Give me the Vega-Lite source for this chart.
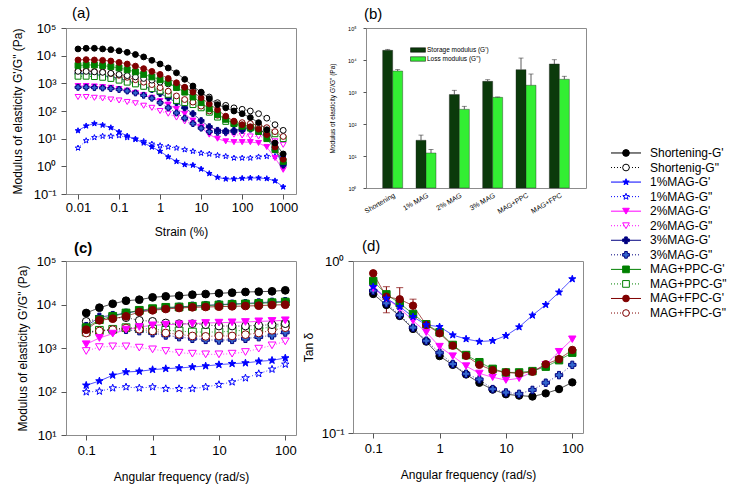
{
"$schema": "https://vega.github.io/schema/vega-lite/v6.json",
"background": "white",
"padding": {"left": 10, "top": 5, "right": 5, "bottom": 5},
"config": {
 "font": "Liberation Sans",
 "view": {"stroke": "#8c8c8c", "strokeWidth": 1},
 "axis": {"domain": false, "grid": false, "labelFont": "Liberation Sans", "titleFont": "Liberation Sans", "labelFontSize": 13, "titleFontSize": 12, "titleFontWeight": "normal", "labelColor": "#000", "titleColor": "#000", "tickColor": "#555", "tickSize": 5, "labelPadding": 3, "labelFlush": false, "labelOverlap": false},
 "title": {"fontSize": 15, "fontWeight": "normal", "anchor": "start", "frame": "group", "offset": 1, "font": "Liberation Sans"}
},
"datasets": {
 "leg": [{"s":"sg1","label":"Shortening-G'"},{"s":"sg2","label":"Shortenig-G\""},{"s":"m11","label":"1%MAG-G'"},{"s":"m12","label":"1%MAG-G\""},{"s":"m21","label":"2%MAG-G'"},{"s":"m22","label":"2%MAG-G\""},{"s":"m31","label":"3%MAG-G'"},{"s":"m32","label":"3%MAG-G\""},{"s":"pp1","label":"MAG+PPC-G'"},{"s":"pp2","label":"MAG+PPC-G\""},{"s":"fp1","label":"MAG+FPC-G'"},{"s":"fp2","label":"MAG+FPC-G\""}],
 "b": [
  {"g":"Shortening","t":"Storage modulus (G')","v":20000,"e":21500},{"g":"Shortening","t":"Loss modulus (G\")","v":4530,"e":5000},
  {"g":"1% MAG","t":"Storage modulus (G')","v":31,"e":45},{"g":"1% MAG","t":"Loss modulus (G\")","v":12.4,"e":16},
  {"g":"2% MAG","t":"Storage modulus (G')","v":830,"e":1130},{"g":"2% MAG","t":"Loss modulus (G\")","v":288,"e":357},
  {"g":"3% MAG","t":"Storage modulus (G')","v":2150,"e":2420},{"g":"3% MAG","t":"Loss modulus (G\")","v":680,"e":700},
  {"g":"MAG+PPC","t":"Storage modulus (G')","v":4990,"e":11500},{"g":"MAG+PPC","t":"Loss modulus (G\")","v":1620,"e":3650},
  {"g":"MAG+FPC","t":"Storage modulus (G')","v":7500,"e":10200},{"g":"MAG+FPC","t":"Loss modulus (G\")","v":2500,"e":3100}
 ],
 "a": [
  {"s":"m12","x":0.01,"y":4.6},{"s":"m12","x":0.0158,"y":8.5},{"s":"m12","x":0.0251,"y":11},{"s":"m12","x":0.0398,"y":12.3},{"s":"m12","x":0.0631,"y":12.3},{"s":"m12","x":0.1,"y":13},{"s":"m12","x":0.158,"y":11},{"s":"m12","x":0.251,"y":9.8},{"s":"m12","x":0.398,"y":8},{"s":"m12","x":0.631,"y":6.4},{"s":"m12","x":1,"y":5.6},{"s":"m12","x":1.58,"y":5},{"s":"m12","x":2.51,"y":4.6},{"s":"m12","x":3.98,"y":4},{"s":"m12","x":6.31,"y":3.5},{"s":"m12","x":10,"y":3},{"s":"m12","x":15.8,"y":2.8},{"s":"m12","x":25.1,"y":2.5},{"s":"m12","x":39.8,"y":2.3},{"s":"m12","x":63.1,"y":2},{"s":"m12","x":100,"y":2},{"s":"m12","x":158,"y":2},{"s":"m12","x":251,"y":2.2},{"s":"m12","x":398,"y":2.3},{"s":"m12","x":631,"y":2.3},{"s":"m12","x":1000,"y":2.1},
  {"s":"m11","x":0.01,"y":19.5},{"s":"m11","x":0.0158,"y":29},{"s":"m11","x":0.0251,"y":35},{"s":"m11","x":0.0398,"y":31},{"s":"m11","x":0.0631,"y":25},{"s":"m11","x":0.1,"y":17.5},{"s":"m11","x":0.158,"y":12.5},{"s":"m11","x":0.251,"y":9.5},{"s":"m11","x":0.398,"y":7},{"s":"m11","x":0.631,"y":5},{"s":"m11","x":1,"y":3.5},{"s":"m11","x":1.58,"y":2.2},{"s":"m11","x":2.51,"y":1.5},{"s":"m11","x":3.98,"y":1.15},{"s":"m11","x":6.31,"y":1.1},{"s":"m11","x":10,"y":0.8},{"s":"m11","x":15.8,"y":0.55},{"s":"m11","x":25.1,"y":0.4},{"s":"m11","x":39.8,"y":0.35},{"s":"m11","x":63.1,"y":0.35},{"s":"m11","x":100,"y":0.37},{"s":"m11","x":158,"y":0.38},{"s":"m11","x":251,"y":0.38},{"s":"m11","x":398,"y":0.36},{"s":"m11","x":631,"y":0.3},{"s":"m11","x":1000,"y":0.18},
  {"s":"m22","x":0.01,"y":320},{"s":"m22","x":0.0158,"y":320},{"s":"m22","x":0.0251,"y":300},{"s":"m22","x":0.0398,"y":285},{"s":"m22","x":0.0631,"y":260},{"s":"m22","x":0.1,"y":240},{"s":"m22","x":0.158,"y":212},{"s":"m22","x":0.251,"y":190},{"s":"m22","x":0.398,"y":155},{"s":"m22","x":0.631,"y":130},{"s":"m22","x":1,"y":100},{"s":"m22","x":1.58,"y":80},{"s":"m22","x":2.51,"y":58},{"s":"m22","x":3.98,"y":42},{"s":"m22","x":6.31,"y":33},{"s":"m22","x":10,"y":27},{"s":"m22","x":15.8,"y":22},{"s":"m22","x":25.1,"y":18},{"s":"m22","x":39.8,"y":15},{"s":"m22","x":63.1,"y":14},{"s":"m22","x":100,"y":13},{"s":"m22","x":158,"y":12},{"s":"m22","x":251,"y":12},{"s":"m22","x":398,"y":11},{"s":"m22","x":631,"y":8},{"s":"m22","x":1000,"y":6},
  {"s":"m21","x":0.01,"y":800},{"s":"m21","x":0.0158,"y":800},{"s":"m21","x":0.0251,"y":770},{"s":"m21","x":0.0398,"y":730},{"s":"m21","x":0.0631,"y":690},{"s":"m21","x":0.1,"y":620},{"s":"m21","x":0.158,"y":540},{"s":"m21","x":0.251,"y":450},{"s":"m21","x":0.398,"y":370},{"s":"m21","x":0.631,"y":300},{"s":"m21","x":1,"y":230},{"s":"m21","x":1.58,"y":170},{"s":"m21","x":2.51,"y":120},{"s":"m21","x":3.98,"y":80},{"s":"m21","x":6.31,"y":45},{"s":"m21","x":10,"y":25},{"s":"m21","x":15.8,"y":14},{"s":"m21","x":25.1,"y":10},{"s":"m21","x":39.8,"y":8},{"s":"m21","x":63.1,"y":7.5},{"s":"m21","x":100,"y":7.5},{"s":"m21","x":158,"y":7.5},{"s":"m21","x":251,"y":7},{"s":"m21","x":398,"y":5},{"s":"m21","x":631,"y":2},{"s":"m21","x":1000,"y":0.75},
  {"s":"m32","x":0.01,"y":720},{"s":"m32","x":0.0158,"y":720},{"s":"m32","x":0.0251,"y":700},{"s":"m32","x":0.0398,"y":680},{"s":"m32","x":0.0631,"y":650},{"s":"m32","x":0.1,"y":600},{"s":"m32","x":0.158,"y":530},{"s":"m32","x":0.251,"y":450},{"s":"m32","x":0.398,"y":370},{"s":"m32","x":0.631,"y":290},{"s":"m32","x":1,"y":200},{"s":"m32","x":1.58,"y":130},{"s":"m32","x":2.51,"y":85},{"s":"m32","x":3.98,"y":55},{"s":"m32","x":6.31,"y":35},{"s":"m32","x":10,"y":24},{"s":"m32","x":15.8,"y":18},{"s":"m32","x":25.1,"y":17},{"s":"m32","x":39.8,"y":17},{"s":"m32","x":63.1,"y":18},{"s":"m32","x":100,"y":20},{"s":"m32","x":158,"y":22},{"s":"m32","x":251,"y":22},{"s":"m32","x":398,"y":15},{"s":"m32","x":631,"y":5},{"s":"m32","x":1000,"y":1.3},
  {"s":"m31","x":0.01,"y":2300},{"s":"m31","x":0.0158,"y":2200},{"s":"m31","x":0.0251,"y":2100},{"s":"m31","x":0.0398,"y":1900},{"s":"m31","x":0.0631,"y":1700},{"s":"m31","x":0.1,"y":1500},{"s":"m31","x":0.158,"y":1250},{"s":"m31","x":0.251,"y":1000},{"s":"m31","x":0.398,"y":800},{"s":"m31","x":0.631,"y":600},{"s":"m31","x":1,"y":430},{"s":"m31","x":1.58,"y":300},{"s":"m31","x":2.51,"y":200},{"s":"m31","x":3.98,"y":130},{"s":"m31","x":6.31,"y":80},{"s":"m31","x":10,"y":45},{"s":"m31","x":15.8,"y":27},{"s":"m31","x":25.1,"y":20},{"s":"m31","x":39.8,"y":19},{"s":"m31","x":63.1,"y":20},{"s":"m31","x":100,"y":22},{"s":"m31","x":158,"y":24},{"s":"m31","x":251,"y":24},{"s":"m31","x":398,"y":14},{"s":"m31","x":631,"y":4},{"s":"m31","x":1000,"y":1.1},
  {"s":"pp2","x":0.01,"y":1800},{"s":"pp2","x":0.0158,"y":1800},{"s":"pp2","x":0.0251,"y":1750},{"s":"pp2","x":0.0398,"y":1650},{"s":"pp2","x":0.0631,"y":1500},{"s":"pp2","x":0.1,"y":1300},{"s":"pp2","x":0.158,"y":1100},{"s":"pp2","x":0.251,"y":950},{"s":"pp2","x":0.398,"y":780},{"s":"pp2","x":0.631,"y":640},{"s":"pp2","x":1,"y":530},{"s":"pp2","x":1.58,"y":400},{"s":"pp2","x":2.51,"y":240},{"s":"pp2","x":3.98,"y":200},{"s":"pp2","x":6.31,"y":170},{"s":"pp2","x":10,"y":130},{"s":"pp2","x":15.8,"y":90},{"s":"pp2","x":25.1,"y":60},{"s":"pp2","x":39.8,"y":42},{"s":"pp2","x":63.1,"y":35},{"s":"pp2","x":100,"y":30},{"s":"pp2","x":158,"y":28},{"s":"pp2","x":251,"y":25},{"s":"pp2","x":398,"y":20},{"s":"pp2","x":631,"y":15},{"s":"pp2","x":1000,"y":10},
  {"s":"fp2","x":0.01,"y":2900},{"s":"fp2","x":0.0158,"y":2900},{"s":"fp2","x":0.0251,"y":2700},{"s":"fp2","x":0.0398,"y":2600},{"s":"fp2","x":0.0631,"y":2250},{"s":"fp2","x":0.1,"y":1950},{"s":"fp2","x":0.158,"y":1650},{"s":"fp2","x":0.251,"y":1350},{"s":"fp2","x":0.398,"y":1100},{"s":"fp2","x":0.631,"y":900},{"s":"fp2","x":1,"y":700},{"s":"fp2","x":1.58,"y":520},{"s":"fp2","x":2.51,"y":350},{"s":"fp2","x":3.98,"y":260},{"s":"fp2","x":6.31,"y":210},{"s":"fp2","x":10,"y":150},{"s":"fp2","x":15.8,"y":100},{"s":"fp2","x":25.1,"y":70},{"s":"fp2","x":39.8,"y":52},{"s":"fp2","x":63.1,"y":43},{"s":"fp2","x":100,"y":38},{"s":"fp2","x":158,"y":35},{"s":"fp2","x":251,"y":30},{"s":"fp2","x":398,"y":25},{"s":"fp2","x":631,"y":18},{"s":"fp2","x":1000,"y":12},
  {"s":"sg2","x":0.01,"y":2700},{"s":"sg2","x":0.0158,"y":2700},{"s":"sg2","x":0.0251,"y":2600},{"s":"sg2","x":0.0398,"y":2500},{"s":"sg2","x":0.0631,"y":2300},{"s":"sg2","x":0.1,"y":2100},{"s":"sg2","x":0.158,"y":1900},{"s":"sg2","x":0.251,"y":1700},{"s":"sg2","x":0.398,"y":1500},{"s":"sg2","x":0.631,"y":1300},{"s":"sg2","x":1,"y":1100},{"s":"sg2","x":1.58,"y":950},{"s":"sg2","x":2.51,"y":850},{"s":"sg2","x":3.98,"y":700},{"s":"sg2","x":6.31,"y":580},{"s":"sg2","x":10,"y":480},{"s":"sg2","x":15.8,"y":320},{"s":"sg2","x":25.1,"y":200},{"s":"sg2","x":39.8,"y":160},{"s":"sg2","x":63.1,"y":130},{"s":"sg2","x":100,"y":115},{"s":"sg2","x":158,"y":100},{"s":"sg2","x":251,"y":80},{"s":"sg2","x":398,"y":55},{"s":"sg2","x":631,"y":32},{"s":"sg2","x":1000,"y":20},
  {"s":"pp1","x":0.01,"y":4400},{"s":"pp1","x":0.0158,"y":4600},{"s":"pp1","x":0.0251,"y":4600},{"s":"pp1","x":0.0398,"y":4400},{"s":"pp1","x":0.0631,"y":4000},{"s":"pp1","x":0.1,"y":3600},{"s":"pp1","x":0.158,"y":3100},{"s":"pp1","x":0.251,"y":2600},{"s":"pp1","x":0.398,"y":2100},{"s":"pp1","x":0.631,"y":1700},{"s":"pp1","x":1,"y":1350},{"s":"pp1","x":1.58,"y":1050},{"s":"pp1","x":2.51,"y":700},{"s":"pp1","x":3.98,"y":480},{"s":"pp1","x":6.31,"y":320},{"s":"pp1","x":10,"y":200},{"s":"pp1","x":15.8,"y":120},{"s":"pp1","x":25.1,"y":75},{"s":"pp1","x":39.8,"y":50},{"s":"pp1","x":63.1,"y":35},{"s":"pp1","x":100,"y":28},{"s":"pp1","x":158,"y":24},{"s":"pp1","x":251,"y":18},{"s":"pp1","x":398,"y":10},{"s":"pp1","x":631,"y":4},{"s":"pp1","x":1000,"y":1.5},
  {"s":"fp1","x":0.01,"y":7000},{"s":"fp1","x":0.0158,"y":7200},{"s":"fp1","x":0.0251,"y":7000},{"s":"fp1","x":0.0398,"y":6800},{"s":"fp1","x":0.0631,"y":6400},{"s":"fp1","x":0.1,"y":5700},{"s":"fp1","x":0.158,"y":5000},{"s":"fp1","x":0.251,"y":4200},{"s":"fp1","x":0.398,"y":3400},{"s":"fp1","x":0.631,"y":2700},{"s":"fp1","x":1,"y":2100},{"s":"fp1","x":1.58,"y":1500},{"s":"fp1","x":2.51,"y":1050},{"s":"fp1","x":3.98,"y":720},{"s":"fp1","x":6.31,"y":480},{"s":"fp1","x":10,"y":300},{"s":"fp1","x":15.8,"y":180},{"s":"fp1","x":25.1,"y":110},{"s":"fp1","x":39.8,"y":65},{"s":"fp1","x":63.1,"y":42},{"s":"fp1","x":100,"y":32},{"s":"fp1","x":158,"y":27},{"s":"fp1","x":251,"y":22},{"s":"fp1","x":398,"y":14},{"s":"fp1","x":631,"y":5},{"s":"fp1","x":1000,"y":1.8},
  {"s":"sg1","x":0.01,"y":17500},{"s":"sg1","x":0.0158,"y":18500},{"s":"sg1","x":0.0251,"y":18500},{"s":"sg1","x":0.0398,"y":17500},{"s":"sg1","x":0.0631,"y":16500},{"s":"sg1","x":0.1,"y":15000},{"s":"sg1","x":0.158,"y":13200},{"s":"sg1","x":0.251,"y":11000},{"s":"sg1","x":0.398,"y":9000},{"s":"sg1","x":0.631,"y":6800},{"s":"sg1","x":1,"y":5000},{"s":"sg1","x":1.58,"y":3600},{"s":"sg1","x":2.51,"y":2400},{"s":"sg1","x":3.98,"y":1400},{"s":"sg1","x":6.31,"y":800},{"s":"sg1","x":10,"y":470},{"s":"sg1","x":15.8,"y":280},{"s":"sg1","x":25.1,"y":170},{"s":"sg1","x":39.8,"y":130},{"s":"sg1","x":63.1,"y":100},{"s":"sg1","x":100,"y":80},{"s":"sg1","x":158,"y":58},{"s":"sg1","x":251,"y":38},{"s":"sg1","x":398,"y":21},{"s":"sg1","x":631,"y":7},{"s":"sg1","x":1000,"y":2.8}
 ],
 "c": [
  {"s":"m12","x":0.1,"y":97.5},{"s":"m12","x":0.158,"y":101},{"s":"m12","x":0.251,"y":120},{"s":"m12","x":0.398,"y":127},{"s":"m12","x":0.631,"y":120},{"s":"m12","x":1,"y":127},{"s":"m12","x":1.58,"y":116},{"s":"m12","x":2.51,"y":116},{"s":"m12","x":3.98,"y":116},{"s":"m12","x":6.31,"y":127},{"s":"m12","x":10,"y":144},{"s":"m12","x":15.8,"y":165},{"s":"m12","x":25.1,"y":204},{"s":"m12","x":39.8,"y":257},{"s":"m12","x":63.1,"y":324},{"s":"m12","x":100,"y":421},
  {"s":"m11","x":0.1,"y":139},{"s":"m11","x":0.158,"y":174},{"s":"m11","x":0.251,"y":236},{"s":"m11","x":0.398,"y":281},{"s":"m11","x":0.631,"y":291},{"s":"m11","x":1,"y":318},{"s":"m11","x":1.58,"y":335},{"s":"m11","x":2.51,"y":347},{"s":"m11","x":3.98,"y":366},{"s":"m11","x":6.31,"y":386},{"s":"m11","x":10,"y":414},{"s":"m11","x":15.8,"y":436},{"s":"m11","x":25.1,"y":452},{"s":"m11","x":39.8,"y":494},{"s":"m11","x":63.1,"y":520},{"s":"m11","x":100,"y":589},
  {"s":"m22","x":0.1,"y":853},{"s":"m22","x":0.158,"y":1050},{"s":"m22","x":0.251,"y":1090},{"s":"m22","x":0.398,"y":1090},{"s":"m22","x":0.631,"y":1020},{"s":"m22","x":1,"y":931},{"s":"m22","x":1.58,"y":853},{"s":"m22","x":2.51,"y":781},{"s":"m22","x":3.98,"y":741},{"s":"m22","x":6.31,"y":715},{"s":"m22","x":10,"y":715},{"s":"m22","x":15.8,"y":741},{"s":"m22","x":25.1,"y":809},{"s":"m22","x":39.8,"y":966},{"s":"m22","x":63.1,"y":1150},{"s":"m22","x":100,"y":1420},
  {"s":"m32","x":0.1,"y":2330},{"s":"m32","x":0.158,"y":2460},{"s":"m32","x":0.251,"y":2550},{"s":"m32","x":0.398,"y":2640},{"s":"m32","x":0.631,"y":2460},{"s":"m32","x":1,"y":2210},{"s":"m32","x":1.58,"y":1960},{"s":"m32","x":2.51,"y":1790},{"s":"m32","x":3.98,"y":1640},{"s":"m32","x":6.31,"y":1550},{"s":"m32","x":10,"y":1500},{"s":"m32","x":15.8,"y":1550},{"s":"m32","x":25.1,"y":1640},{"s":"m32","x":39.8,"y":1790},{"s":"m32","x":63.1,"y":1960},{"s":"m32","x":100,"y":2290},
  {"s":"pp2","x":0.1,"y":2330},{"s":"pp2","x":0.158,"y":2550},{"s":"pp2","x":0.251,"y":2690},{"s":"pp2","x":0.398,"y":2930},{"s":"pp2","x":0.631,"y":2880},{"s":"pp2","x":1,"y":2690},{"s":"pp2","x":1.58,"y":2550},{"s":"pp2","x":2.51,"y":2460},{"s":"pp2","x":3.98,"y":2330},{"s":"pp2","x":6.31,"y":2330},{"s":"pp2","x":10,"y":2330},{"s":"pp2","x":15.8,"y":2460},{"s":"pp2","x":25.1,"y":2550},{"s":"pp2","x":39.8,"y":2780},{"s":"pp2","x":63.1,"y":3040},{"s":"pp2","x":100,"y":3430},
  {"s":"fp2","x":0.1,"y":2210},{"s":"fp2","x":0.158,"y":2460},{"s":"fp2","x":0.251,"y":2640},{"s":"fp2","x":0.398,"y":2880},{"s":"fp2","x":0.631,"y":2690},{"s":"fp2","x":1,"y":2460},{"s":"fp2","x":1.58,"y":2210},{"s":"fp2","x":2.51,"y":2060},{"s":"fp2","x":3.98,"y":1890},{"s":"fp2","x":6.31,"y":1850},{"s":"fp2","x":10,"y":1890},{"s":"fp2","x":15.8,"y":1890},{"s":"fp2","x":25.1,"y":2030},{"s":"fp2","x":39.8,"y":2210},{"s":"fp2","x":63.1,"y":2550},{"s":"fp2","x":100,"y":2930},
  {"s":"sg2","x":0.1,"y":4100},{"s":"sg2","x":0.158,"y":4720},{"s":"sg2","x":0.251,"y":4900},{"s":"sg2","x":0.398,"y":4980},{"s":"sg2","x":0.631,"y":4330},{"s":"sg2","x":1,"y":4100},{"s":"sg2","x":1.58,"y":3760},{"s":"sg2","x":2.51,"y":3620},{"s":"sg2","x":3.98,"y":3620},{"s":"sg2","x":6.31,"y":3430},{"s":"sg2","x":10,"y":3200},{"s":"sg2","x":15.8,"y":3200},{"s":"sg2","x":25.1,"y":3200},{"s":"sg2","x":39.8,"y":3320},{"s":"sg2","x":63.1,"y":3430},{"s":"sg2","x":100,"y":3620},
  {"s":"m21","x":0.1,"y":1220},{"s":"m21","x":0.158,"y":1700},{"s":"m21","x":0.251,"y":2140},{"s":"m21","x":0.398,"y":2640},{"s":"m21","x":0.631,"y":3040},{"s":"m21","x":1,"y":3320},{"s":"m21","x":1.58,"y":3430},{"s":"m21","x":2.51,"y":3500},{"s":"m21","x":3.98,"y":3620},{"s":"m21","x":6.31,"y":3760},{"s":"m21","x":10,"y":3820},{"s":"m21","x":15.8,"y":3890},{"s":"m21","x":25.1,"y":3960},{"s":"m21","x":39.8,"y":4100},{"s":"m21","x":63.1,"y":4180},{"s":"m21","x":100,"y":4330},
  {"s":"m31","x":0.1,"y":3150},{"s":"m31","x":0.158,"y":5160},{"s":"m31","x":0.251,"y":5640},{"s":"m31","x":0.398,"y":6380},{"s":"m31","x":0.631,"y":7090},{"s":"m31","x":1,"y":7610},{"s":"m31","x":1.58,"y":8310},{"s":"m31","x":2.51,"y":8760},{"s":"m31","x":3.98,"y":9240},{"s":"m31","x":6.31,"y":9570},{"s":"m31","x":10,"y":9900},{"s":"m31","x":15.8,"y":10300},{"s":"m31","x":25.1,"y":10600},{"s":"m31","x":39.8,"y":11000},{"s":"m31","x":63.1,"y":11400},{"s":"m31","x":100,"y":11800},
  {"s":"pp1","x":0.1,"y":2930},{"s":"pp1","x":0.158,"y":4480},{"s":"pp1","x":0.251,"y":5350},{"s":"pp1","x":0.398,"y":6380},{"s":"pp1","x":0.631,"y":7350},{"s":"pp1","x":1,"y":8020},{"s":"pp1","x":1.58,"y":8610},{"s":"pp1","x":2.51,"y":8760},{"s":"pp1","x":3.98,"y":9080},{"s":"pp1","x":6.31,"y":9400},{"s":"pp1","x":10,"y":9740},{"s":"pp1","x":15.8,"y":10100},{"s":"pp1","x":25.1,"y":10300},{"s":"pp1","x":39.8,"y":10600},{"s":"pp1","x":63.1,"y":11000},{"s":"pp1","x":100,"y":11400},
  {"s":"fp1","x":0.1,"y":2640},{"s":"fp1","x":0.158,"y":4330},{"s":"fp1","x":0.251,"y":4720},{"s":"fp1","x":0.398,"y":5350},{"s":"fp1","x":0.631,"y":6730},{"s":"fp1","x":1,"y":7350},{"s":"fp1","x":1.58,"y":7880},{"s":"fp1","x":2.51,"y":8310},{"s":"fp1","x":3.98,"y":8610},{"s":"fp1","x":6.31,"y":8760},{"s":"fp1","x":10,"y":8920},{"s":"fp1","x":15.8,"y":9080},{"s":"fp1","x":25.1,"y":9240},{"s":"fp1","x":39.8,"y":9400},{"s":"fp1","x":63.1,"y":9740},{"s":"fp1","x":100,"y":9900},
  {"s":"sg1","x":0.1,"y":6380},{"s":"sg1","x":0.158,"y":8450},{"s":"sg1","x":0.251,"y":10400},{"s":"sg1","x":0.398,"y":12200},{"s":"sg1","x":0.631,"y":12900},{"s":"sg1","x":1,"y":14600},{"s":"sg1","x":1.58,"y":15400},{"s":"sg1","x":2.51,"y":15900},{"s":"sg1","x":3.98,"y":16800},{"s":"sg1","x":6.31,"y":17400},{"s":"sg1","x":10,"y":18100},{"s":"sg1","x":15.8,"y":18700},{"s":"sg1","x":25.1,"y":19400},{"s":"sg1","x":39.8,"y":19700},{"s":"sg1","x":63.1,"y":20100},{"s":"sg1","x":100,"y":21200}
 ],
 "d": [
  {"s":"sg1","x":0.1,"y":0.643},{"s":"sg1","x":0.158,"y":0.555},{"s":"sg1","x":0.251,"y":0.479},{"s":"sg1","x":0.398,"y":0.403},{"s":"sg1","x":0.631,"y":0.34},{"s":"sg1","x":1,"y":0.28},{"s":"sg1","x":1.58,"y":0.249},{"s":"sg1","x":2.51,"y":0.219},{"s":"sg1","x":3.98,"y":0.196},{"s":"sg1","x":6.31,"y":0.179},{"s":"sg1","x":10,"y":0.168},{"s":"sg1","x":15.8,"y":0.165},{"s":"sg1","x":25.1,"y":0.163},{"s":"sg1","x":39.8,"y":0.17},{"s":"sg1","x":63.1,"y":0.18},{"s":"sg1","x":100,"y":0.197},
  {"s":"m32","x":0.1,"y":0.672},{"s":"m32","x":0.158,"y":0.568},{"s":"m32","x":0.251,"y":0.485},{"s":"m32","x":0.398,"y":0.41},{"s":"m32","x":0.631,"y":0.344},{"s":"m32","x":1,"y":0.293},{"s":"m32","x":1.58,"y":0.252},{"s":"m32","x":2.51,"y":0.221},{"s":"m32","x":3.98,"y":0.205},{"s":"m32","x":6.31,"y":0.18},{"s":"m32","x":10,"y":0.172},{"s":"m32","x":15.8,"y":0.169},{"s":"m32","x":25.1,"y":0.178},{"s":"m32","x":39.8,"y":0.196},{"s":"m32","x":63.1,"y":0.217},{"s":"m32","x":100,"y":0.249},
  {"s":"m21","x":0.1,"y":0.694},{"s":"m21","x":0.158,"y":0.607},{"s":"m21","x":0.251,"y":0.531},{"s":"m21","x":0.398,"y":0.45},{"s":"m21","x":0.631,"y":0.385},{"s":"m21","x":1,"y":0.318},{"s":"m21","x":1.58,"y":0.28},{"s":"m21","x":2.51,"y":0.245},{"s":"m21","x":3.98,"y":0.222},{"s":"m21","x":6.31,"y":0.211},{"s":"m21","x":10,"y":0.203},{"s":"m21","x":15.8,"y":0.208},{"s":"m21","x":25.1,"y":0.227},{"s":"m21","x":39.8,"y":0.249},{"s":"m21","x":63.1,"y":0.297},{"s":"m21","x":100,"y":0.351},
  {"s":"pp1","x":0.1,"y":0.765},{"s":"pp1","x":0.158,"y":0.64},{"s":"pp1","x":0.251,"y":0.568},{"s":"pp1","x":0.398,"y":0.492},{"s":"pp1","x":0.631,"y":0.429},{"s":"pp1","x":1,"y":0.385},{"s":"pp1","x":1.58,"y":0.325},{"s":"pp1","x":2.51,"y":0.284},{"s":"pp1","x":3.98,"y":0.258},{"s":"pp1","x":6.31,"y":0.236},{"s":"pp1","x":10,"y":0.225},{"s":"pp1","x":15.8,"y":0.225},{"s":"pp1","x":25.1,"y":0.229},{"s":"pp1","x":39.8,"y":0.243},{"s":"pp1","x":63.1,"y":0.265},{"s":"pp1","x":100,"y":0.293},
  {"s":"fp1","x":0.1,"y":0.848},{"s":"fp1","x":0.158,"y":0.62},{"s":"fp1","x":0.251,"y":0.599},{"s":"fp1","x":0.398,"y":0.55},{"s":"fp1","x":0.631,"y":0.425},{"s":"fp1","x":1,"y":0.38},{"s":"fp1","x":1.58,"y":0.322},{"s":"fp1","x":2.51,"y":0.281},{"s":"fp1","x":3.98,"y":0.249},{"s":"fp1","x":6.31,"y":0.232},{"s":"fp1","x":10,"y":0.225},{"s":"fp1","x":15.8,"y":0.222},{"s":"fp1","x":25.1,"y":0.227},{"s":"fp1","x":39.8,"y":0.251},{"s":"fp1","x":63.1,"y":0.269},{"s":"fp1","x":100,"y":0.304},
  {"s":"m11","x":0.1,"y":0.709},{"s":"m11","x":0.158,"y":0.607},{"s":"m11","x":0.251,"y":0.542},{"s":"m11","x":0.398,"y":0.474},{"s":"m11","x":0.631,"y":0.425},{"s":"m11","x":1,"y":0.415},{"s":"m11","x":1.58,"y":0.371},{"s":"m11","x":2.51,"y":0.352},{"s":"m11","x":3.98,"y":0.34},{"s":"m11","x":6.31,"y":0.344},{"s":"m11","x":10,"y":0.368},{"s":"m11","x":15.8,"y":0.413},{"s":"m11","x":25.1,"y":0.483},{"s":"m11","x":39.8,"y":0.557},{"s":"m11","x":63.1,"y":0.658},{"s":"m11","x":100,"y":0.786}
 ],
 "de": [{"s":"fp1","x":0.158,"lo":0.5,"hi":0.709},{"s":"fp1","x":0.251,"lo":0.53,"hi":0.7},{"s":"fp1","x":0.398,"lo":0.5,"hi":0.6}]
},
"hconcat": [
 {"concat": [
  {"hconcat": [
   {
    "width": 230, "height": 166,
    "title": {"text": "(a)", "dx": 6},
    "data": {"name": "a"},
    "encoding": {
     "x": {"field": "x", "type": "quantitative", "scale": {"type": "log", "domain": [0.0051, 2050], "nice": false}, "axis": {"values": [0.01,0.1,1,10,100,1000], "format": "~g", "title": "Strain (%)", "titlePadding": 12, "labelPadding": 2}},
     "y": {"field": "y", "type": "quantitative", "scale": {"type": "log", "domain": [0.1, 100000], "nice": false}, "axis": {"values": [0.1,1,10,100,1000,10000,100000], "labelExpr": "datum.value > 50000 ? '10⁵' : datum.value > 5000 ? '10⁴' : datum.value > 500 ? '10³' : datum.value > 50 ? '10²' : datum.value > 5 ? '10¹' : datum.value > 0.5 ? '10⁰' : '10⁻¹'", "title": "Modulus of elasticity  G'/G\" (Pa)", "titlePadding": 10, "labelPadding": 5, "minExtent": 32, "maxExtent": 32}}
    },
    "layer": [
     {"mark": {"type": "line", "strokeWidth": 1, "opacity": 0.75}, "encoding": {"detail": {"field": "s"},
       "stroke": {"field": "s", "type": "nominal", "legend": null, "scale": {"domain": ["sg1","sg2","m11","m12","m21","m22","m31","m32","pp1","pp2","fp1","fp2"], "range": ["#000000","#000000","#0000ff","#0000ff","#ff00ff","#ff00ff","#000080","#000080","#008000","#008000","#800000","#800000"]}},
       "strokeDash": {"field": "s", "type": "nominal", "legend": null, "scale": {"domain": ["sg1","sg2","m11","m12","m21","m22","m31","m32","pp1","pp2","fp1","fp2"], "range": [[1,0],[1,2],[1,0],[1,2],[1,0],[1,2],[1,0],[1,2],[1,0],[1,2],[1,0],[1,2]]}}}},
     {"mark": {"type": "point", "filled": true, "size": 34, "strokeWidth": 1, "opacity": 1}, "encoding": {
       "shape": {"field": "s", "type": "nominal", "legend": null, "scale": {"domain": ["sg1","sg2","m11","m12","m21","m22","m31","m32","pp1","pp2","fp1","fp2"], "range": ["circle","circle","M0,-1L0.235,-0.324L0.951,-0.309L0.38,0.124L0.588,0.809L0,0.4L-0.588,0.809L-0.38,0.124L-0.951,-0.309L-0.235,-0.324Z","M0,-1L0.235,-0.324L0.951,-0.309L0.38,0.124L0.588,0.809L0,0.4L-0.588,0.809L-0.38,0.124L-0.951,-0.309L-0.235,-0.324Z","triangle-down","triangle-down","cross","cross","square","square","circle","circle"]}},
       "fill": {"field": "s", "type": "nominal", "legend": null, "scale": {"domain": ["sg1","sg2","m11","m12","m21","m22","m31","m32","pp1","pp2","fp1","fp2"], "range": ["#000000","#ffffff","#0000ff","#ffffff","#ff00ff","#ffffff","#000080","#3366cc","#008000","#ffffff","#800000","#ffffff"]}},
       "stroke": {"field": "s", "type": "nominal", "legend": null}}}
    ]
   },
   {
    "width": 220, "height": 160,
    "title": {"text": "(b)", "dx": -2, "offset": 4},
    "data": {"name": "b"},
    "encoding": {
     "x": {"field": "g", "type": "nominal", "sort": ["Shortening","1% MAG","2% MAG","3% MAG","MAG+PPC","MAG+FPC"], "scale": {"paddingInner": 0.4, "paddingOuter": 0.5}, "axis": {"title": null, "labelAngle": -30, "labelFontSize": 7, "ticks": false, "labelPadding": 3}},
     "xOffset": {"field": "t", "type": "nominal", "sort": ["Storage modulus (G')", "Loss modulus (G\")"]},
     "y": {"field": "v", "type": "quantitative", "scale": {"type": "log", "domain": [1, 100000], "nice": false}, "axis": {"values": [1,10,100,1000,10000,100000], "labelExpr": "datum.value > 50000 ? '10⁵' : datum.value > 5000 ? '10⁴' : datum.value > 500 ? '10³' : datum.value > 50 ? '10²' : datum.value > 5 ? '10¹' : '10⁰'", "labelFontSize": 5.5, "titleFontSize": 6.5, "tickSize": 3, "labelPadding": 7, "titlePadding": 12, "title": "Modulus of elasticity  G'/G\" (Pa)", "minExtent": 0}}
    },
    "layer": [
     {"mark": {"type": "bar", "stroke": "#222", "strokeWidth": 0.4}, "encoding": {"y2": {"datum": 1},
       "color": {"field": "t", "type": "nominal", "sort": ["Storage modulus (G')", "Loss modulus (G\")"], "scale": {"domain": ["Storage modulus (G')", "Loss modulus (G\")"], "range": ["#0b3a0b", "#33ee33"]}, "legend": {"title": null, "orient": "none", "legendX": 48, "legendY": 18, "symbolType": "M-2,-0.6H2V0.6H-2Z", "symbolSize": 56, "labelFontSize": 6.5, "rowPadding": 1, "symbolStrokeColor": "#000", "symbolStrokeWidth": 0.5, "labelOffset": 5, "padding": 0}}}},
     {"mark": {"type": "rule", "color": "#333", "strokeWidth": 0.8}, "encoding": {"y2": {"field": "e"}}},
     {"mark": {"type": "tick", "orient": "horizontal", "color": "#333", "size": 5, "thickness": 0.8}, "encoding": {"y": {"field": "e", "type": "quantitative"}}}
    ]
   }
  ], "spacing": 30, "resolve": {"scale": {"color": "independent"}, "legend": {"color": "independent"}}},
  {"hconcat": [
   {
    "width": 230, "height": 174,
    "title": {"text": "(c)", "dx": 8, "fontWeight": "bold", "offset": -1},
    "data": {"name": "c"},
    "encoding": {
     "x": {"field": "x", "type": "quantitative", "scale": {"type": "log", "domain": [0.0496, 145], "nice": false}, "axis": {"values": [0.1,1,10,100], "format": "~g", "title": "Angular frequency (rad/s)", "titlePadding": 14, "labelPadding": 4}},
     "y": {"field": "y", "type": "quantitative", "scale": {"type": "log", "domain": [10, 100000], "nice": false}, "axis": {"values": [10,100,1000,10000,100000], "labelExpr": "datum.value > 50000 ? '10⁵' : datum.value > 5000 ? '10⁴' : datum.value > 500 ? '10³' : datum.value > 50 ? '10²' : '10¹'", "title": "Modulus of elasticity  G'/G\" (Pa)", "titlePadding": 9, "labelPadding": 5, "minExtent": 28, "maxExtent": 28}}
    },
    "layer": [
     {"mark": {"type": "line", "strokeWidth": 1, "opacity": 0.75}, "encoding": {"detail": {"field": "s"}, "stroke": {"field": "s", "type": "nominal", "legend": null}, "strokeDash": {"field": "s", "type": "nominal", "legend": null}}},
     {"mark": {"type": "point", "filled": true, "size": 60, "strokeWidth": 1, "opacity": 1}, "encoding": {"shape": {"field": "s", "type": "nominal", "legend": null}, "fill": {"field": "s", "type": "nominal", "legend": null}, "stroke": {"field": "s", "type": "nominal", "legend": null}}}
    ]
   },
   {
    "width": 230, "height": 172,
    "title": {"text": "(d)", "dx": 9, "offset": 1},
    "layer": [
     {"data": {"name": "de"}, "mark": {"type": "rule", "color": "#800000", "strokeWidth": 1}, "encoding": {"x": {"field": "x", "type": "quantitative"}, "y": {"field": "lo", "type": "quantitative"}, "y2": {"field": "hi"}}},
     {"data": {"name": "de"}, "mark": {"type": "tick", "orient": "horizontal", "color": "#800000", "size": 7, "thickness": 1}, "encoding": {"x": {"field": "x", "type": "quantitative"}, "y": {"field": "hi", "type": "quantitative"}}},
     {"data": {"name": "de"}, "mark": {"type": "tick", "orient": "horizontal", "color": "#800000", "size": 7, "thickness": 1}, "encoding": {"x": {"field": "x", "type": "quantitative"}, "y": {"field": "lo", "type": "quantitative"}}},
     {"data": {"name": "d"}, "mark": {"type": "line", "strokeWidth": 1, "opacity": 0.75}, "encoding": {"x": {"field": "x", "type": "quantitative"}, "y": {"field": "y", "type": "quantitative"}, "detail": {"field": "s"}, "stroke": {"field": "s", "type": "nominal", "legend": null}, "strokeDash": {"field": "s", "type": "nominal", "legend": null}}},
     {"data": {"name": "d"}, "mark": {"type": "point", "filled": true, "size": 55, "strokeWidth": 1, "opacity": 1}, "encoding": {"x": {"field": "x", "type": "quantitative"}, "y": {"field": "y", "type": "quantitative"}, "shape": {"field": "s", "type": "nominal", "legend": null}, "fill": {"field": "s", "type": "nominal", "legend": null}, "stroke": {"field": "s", "type": "nominal", "legend": null}}}
    ],
    "encoding": {
     "x": {"field": "x", "type": "quantitative", "scale": {"type": "log", "domain": [0.0496, 145], "nice": false}, "axis": {"values": [0.1,1,10,100], "format": "~g", "title": "Angular frequency (rad/s)", "titlePadding": 14, "labelPadding": 4}},
     "y": {"type": "quantitative", "scale": {"type": "log", "domain": [0.1, 1], "nice": false}, "axis": {"values": [0.1, 1], "labelExpr": "datum.value > 0.5 ? '10⁰' : '10⁻¹'", "title": "Tan δ", "titlePadding": 6, "labelPadding": 4}}
    }
   }
  ], "spacing": 4}
 ], "columns": 1, "align": "none", "spacing": 0, "resolve": {"scale": {"color": "independent"}, "legend": {"color": "independent"}}},
 {
  "width": 120, "height": 456,
  "view": {"stroke": null},
  "data": {"name": "leg"},
  "encoding": {"y": {"field": "s", "type": "nominal", "scale": {"type": "point", "domain": ["sg1","sg2","m11","m12","m21","m22","m31","m32","pp1","pp2","fp1","fp2"], "range": [117.7, 292.3]}, "axis": null}},
  "layer": [
   {"mark": {"type": "rule", "strokeWidth": 1}, "encoding": {"x": {"datum": 0, "type": "quantitative", "scale": {"domain": [0, 4], "nice": false}, "axis": null}, "x2": {"datum": 1}, "stroke": {"field": "s", "type": "nominal", "legend": null}, "strokeDash": {"field": "s", "type": "nominal", "legend": null}}},
   {"mark": {"type": "point", "filled": true, "size": 45, "strokeWidth": 1, "opacity": 1}, "encoding": {"x": {"datum": 0.5, "type": "quantitative", "scale": {"domain": [0, 4], "nice": false}, "axis": null}, "shape": {"field": "s", "type": "nominal", "legend": null}, "fill": {"field": "s", "type": "nominal", "legend": null}, "stroke": {"field": "s", "type": "nominal", "legend": null}}},
   {"mark": {"type": "text", "align": "left", "baseline": "middle", "fontSize": 12, "font": "Liberation Sans"}, "encoding": {"x": {"datum": 1.3, "type": "quantitative", "scale": {"domain": [0, 4], "nice": false}, "axis": null}, "text": {"field": "label"}}}
  ]
 }
],
"spacing": 23,
"resolve": {"scale": {"color": "independent"}, "legend": {"color": "independent"}}
}
